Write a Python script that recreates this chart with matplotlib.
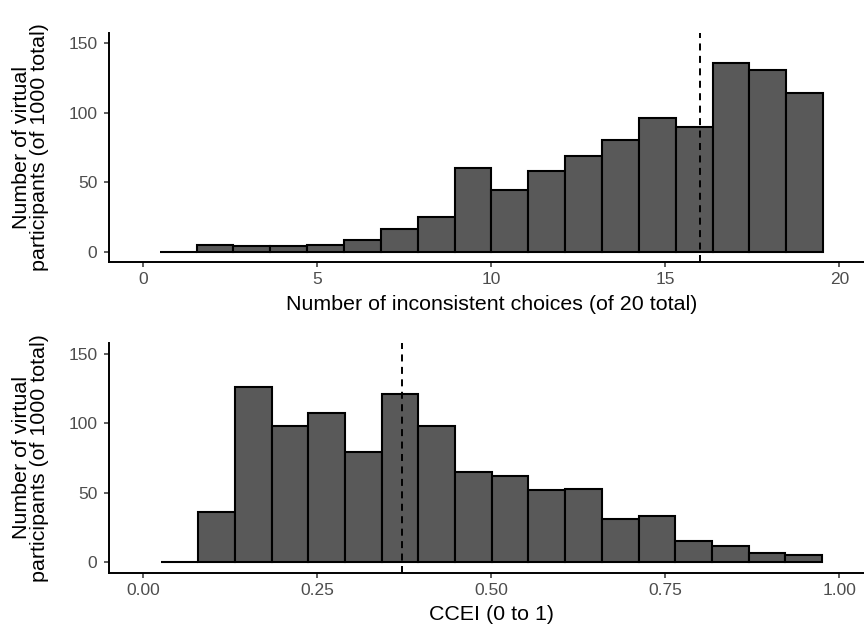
#!/usr/bin/env python3
import matplotlib
matplotlib.use("Agg")
import matplotlib.pyplot as plt
import numpy as np

# bin counts (18 bins each)
inconsistent_counts = [0, 5, 4, 4, 5, 8, 16, 25, 60, 44, 58, 69, 80, 96, 90, 136, 131, 114]
inconsistent_range = (0.47, 19.53)
inconsistent_median = 16

ccei_counts = [0, 36, 126, 98, 107, 79, 121, 98, 65, 62, 52, 53, 31, 33, 15, 12, 7, 5]
ccei_range = (0.026, 0.975)
ccei_median = 0.371

plt.rcParams['font.family'] = ['Liberation Sans', 'DejaVu Sans']

fig = plt.figure(figsize=(8.64, 6.3), dpi=100)
ax1 = fig.add_axes([0.1256, 0.5841, 0.8863, 0.3640])
ax2 = fig.add_axes([0.1256, 0.0910, 0.8863, 0.3641])

ylab = "Number of virtual\nparticipants (of 1000 total)"


def draw(ax, counts, rng, median, xlim, xticks, xticklabels, xlabel):
    edges = np.linspace(rng[0], rng[1], len(counts) + 1)
    ax.bar(edges[:-1], counts, width=np.diff(edges), align='edge',
           color='#595959', edgecolor='black', linewidth=1.5)
    ax.axvline(median, color='black', linewidth=1.4, linestyle=(0, (3.6, 2.8)))
    ax.set_xlim(*xlim)
    ax.set_ylim(-7.5, 157.5)
    ax.set_xticks(xticks)
    ax.set_xticklabels(xticklabels)
    ax.set_yticks([0, 50, 100, 150])
    for s in ['top', 'right']:
        ax.spines[s].set_visible(False)
    for s in ['left', 'bottom']:
        ax.spines[s].set_linewidth(1.4)
    ax.tick_params(axis='both', length=3.5, width=1.1, color='#333333',
                   labelcolor='#4D4D4D', labelsize=12.5)
    ax.tick_params(axis='x', pad=3.6)
    ax.tick_params(axis='y', pad=4.5)
    ax.set_xlabel(xlabel, fontsize=15.4)
    ax.set_ylabel(ylab, fontsize=15.4, linespacing=0.95)
    ax.xaxis.set_label_coords(0.5, -0.142)
    ax.yaxis.set_label_coords(-0.078, 0.5)


draw(ax1, inconsistent_counts, inconsistent_range, inconsistent_median,
     (-1, 21), [0, 5, 10, 15, 20], ['0', '5', '10', '15', '20'],
     "Number of inconsistent choices (of 20 total)")
draw(ax2, ccei_counts, ccei_range, ccei_median,
     (-0.05, 1.05), [0, 0.25, 0.5, 0.75, 1.0], ['0.00', '0.25', '0.50', '0.75', '1.00'],
     "CCEI (0 to 1)")

fig.savefig('out.png', dpi=100)
